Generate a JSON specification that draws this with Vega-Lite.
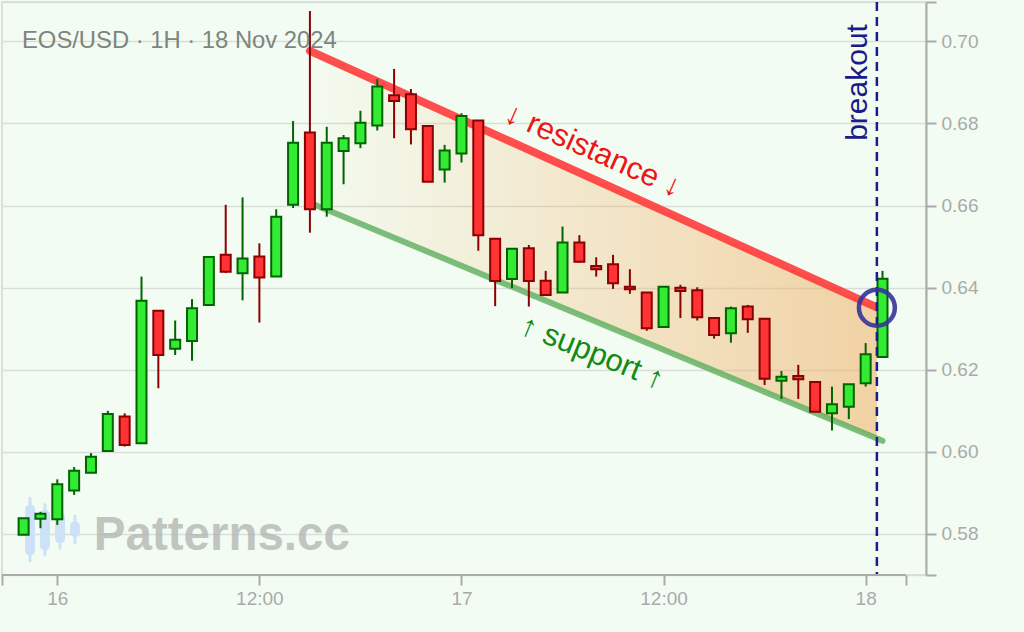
{
  "$schema": "https://vega.github.io/schema/vega-lite/v6.json",
  "width": 924,
  "height": 573,
  "autosize": {"type": "none"},
  "padding": {"left": 2, "top": 2, "right": 98, "bottom": 57},
  "background": "#f3fcf2",
  "config": {
    "font": "Liberation Sans",
    "view": {"stroke": "#dcdfdc", "strokeWidth": 2}
  },
  "title": {
    "text": "EOS/USD · 1H · 18 Nov 2024",
    "anchor": "start",
    "frame": "group",
    "orient": "top",
    "offset": -79,
    "dx": 20,
    "baseline": "alphabetic",
    "font": "Liberation Sans",
    "fontSize": 23.8,
    "fontWeight": "normal",
    "color": "#7d857d"
  },
  "datasets": {
    "candles": [
      {"t": "2024-11-15T22:00:00Z", "o": 0.5798, "h": 0.5839, "l": 0.5797, "c": 0.5838},
      {"t": "2024-11-15T23:00:00Z", "o": 0.5837, "h": 0.5854, "l": 0.5814, "c": 0.5849},
      {"t": "2024-11-16T00:00:00Z", "o": 0.5836, "h": 0.5933, "l": 0.5822, "c": 0.5921},
      {"t": "2024-11-16T01:00:00Z", "o": 0.5906, "h": 0.5963, "l": 0.5895, "c": 0.5954},
      {"t": "2024-11-16T02:00:00Z", "o": 0.5949, "h": 0.5997, "l": 0.5948, "c": 0.5988},
      {"t": "2024-11-16T03:00:00Z", "o": 0.6002, "h": 0.6100, "l": 0.6001, "c": 0.6092},
      {"t": "2024-11-16T04:00:00Z", "o": 0.6086, "h": 0.6094, "l": 0.6013, "c": 0.6017},
      {"t": "2024-11-16T05:00:00Z", "o": 0.6021, "h": 0.6427, "l": 0.6019, "c": 0.6368},
      {"t": "2024-11-16T06:00:00Z", "o": 0.6344, "h": 0.6345, "l": 0.6155, "c": 0.6236},
      {"t": "2024-11-16T07:00:00Z", "o": 0.6251, "h": 0.6320, "l": 0.6236, "c": 0.6273},
      {"t": "2024-11-16T08:00:00Z", "o": 0.6270, "h": 0.6372, "l": 0.6222, "c": 0.6350},
      {"t": "2024-11-16T09:00:00Z", "o": 0.6358, "h": 0.6476, "l": 0.6357, "c": 0.6475},
      {"t": "2024-11-16T10:00:00Z", "o": 0.6480, "h": 0.6602, "l": 0.6436, "c": 0.6439},
      {"t": "2024-11-16T11:00:00Z", "o": 0.6435, "h": 0.6620, "l": 0.6369, "c": 0.6471},
      {"t": "2024-11-16T12:00:00Z", "o": 0.6476, "h": 0.6508, "l": 0.6315, "c": 0.6425},
      {"t": "2024-11-16T13:00:00Z", "o": 0.6427, "h": 0.6591, "l": 0.6426, "c": 0.6573},
      {"t": "2024-11-16T14:00:00Z", "o": 0.6602, "h": 0.6806, "l": 0.6594, "c": 0.6753},
      {"t": "2024-11-16T15:00:00Z", "o": 0.6778, "h": 0.7074, "l": 0.6534, "c": 0.6591},
      {"t": "2024-11-16T16:00:00Z", "o": 0.6591, "h": 0.6792, "l": 0.6573, "c": 0.6753},
      {"t": "2024-11-16T17:00:00Z", "o": 0.6733, "h": 0.6772, "l": 0.6652, "c": 0.6764},
      {"t": "2024-11-16T18:00:00Z", "o": 0.6752, "h": 0.6831, "l": 0.6740, "c": 0.6802},
      {"t": "2024-11-16T19:00:00Z", "o": 0.6795, "h": 0.6908, "l": 0.6783, "c": 0.6890},
      {"t": "2024-11-16T20:00:00Z", "o": 0.6869, "h": 0.6933, "l": 0.6764, "c": 0.6855},
      {"t": "2024-11-16T21:00:00Z", "o": 0.6871, "h": 0.6884, "l": 0.6749, "c": 0.6786},
      {"t": "2024-11-16T22:00:00Z", "o": 0.6794, "h": 0.6795, "l": 0.6658, "c": 0.6658},
      {"t": "2024-11-16T23:00:00Z", "o": 0.6688, "h": 0.6748, "l": 0.6656, "c": 0.6734},
      {"t": "2024-11-17T00:00:00Z", "o": 0.6727, "h": 0.6825, "l": 0.6705, "c": 0.6818},
      {"t": "2024-11-17T01:00:00Z", "o": 0.6807, "h": 0.6808, "l": 0.6490, "c": 0.6528},
      {"t": "2024-11-17T02:00:00Z", "o": 0.6519, "h": 0.6520, "l": 0.6355, "c": 0.6416},
      {"t": "2024-11-17T03:00:00Z", "o": 0.6421, "h": 0.6496, "l": 0.6399, "c": 0.6495},
      {"t": "2024-11-17T04:00:00Z", "o": 0.6496, "h": 0.6504, "l": 0.6354, "c": 0.6416},
      {"t": "2024-11-17T05:00:00Z", "o": 0.6417, "h": 0.6441, "l": 0.6382, "c": 0.6382},
      {"t": "2024-11-17T06:00:00Z", "o": 0.6388, "h": 0.6549, "l": 0.6387, "c": 0.6510},
      {"t": "2024-11-17T07:00:00Z", "o": 0.6510, "h": 0.6528, "l": 0.6461, "c": 0.6463},
      {"t": "2024-11-17T08:00:00Z", "o": 0.6453, "h": 0.6474, "l": 0.6427, "c": 0.6445},
      {"t": "2024-11-17T09:00:00Z", "o": 0.6457, "h": 0.6480, "l": 0.6397, "c": 0.6411},
      {"t": "2024-11-17T10:00:00Z", "o": 0.6402, "h": 0.6445, "l": 0.6385, "c": 0.6396},
      {"t": "2024-11-17T11:00:00Z", "o": 0.6388, "h": 0.6389, "l": 0.6295, "c": 0.6301},
      {"t": "2024-11-17T12:00:00Z", "o": 0.6304, "h": 0.6403, "l": 0.6303, "c": 0.6402},
      {"t": "2024-11-17T13:00:00Z", "o": 0.6400, "h": 0.6407, "l": 0.6326, "c": 0.6392},
      {"t": "2024-11-17T14:00:00Z", "o": 0.6394, "h": 0.6401, "l": 0.6320, "c": 0.6328},
      {"t": "2024-11-17T15:00:00Z", "o": 0.6326, "h": 0.6327, "l": 0.6276, "c": 0.6285},
      {"t": "2024-11-17T16:00:00Z", "o": 0.6289, "h": 0.6354, "l": 0.6266, "c": 0.6350},
      {"t": "2024-11-17T17:00:00Z", "o": 0.6354, "h": 0.6358, "l": 0.6290, "c": 0.6323},
      {"t": "2024-11-17T18:00:00Z", "o": 0.6324, "h": 0.6325, "l": 0.6163, "c": 0.6178},
      {"t": "2024-11-17T19:00:00Z", "o": 0.6173, "h": 0.6197, "l": 0.6129, "c": 0.6183},
      {"t": "2024-11-17T20:00:00Z", "o": 0.6185, "h": 0.6212, "l": 0.6129, "c": 0.6177},
      {"t": "2024-11-17T21:00:00Z", "o": 0.6170, "h": 0.6172, "l": 0.6097, "c": 0.6098},
      {"t": "2024-11-17T22:00:00Z", "o": 0.6094, "h": 0.6159, "l": 0.6052, "c": 0.6116},
      {"t": "2024-11-17T23:00:00Z", "o": 0.6110, "h": 0.6165, "l": 0.6080, "c": 0.6165},
      {"t": "2024-11-18T00:00:00Z", "o": 0.6167, "h": 0.6265, "l": 0.6159, "c": 0.6238},
      {"t": "2024-11-18T01:00:00Z", "o": 0.6231, "h": 0.6441, "l": 0.6230, "c": 0.6422}
    ],
    "logo": [
      {"t": "2024-11-15T22:23:00Z", "lo": 0.5735, "hi": 0.5887, "bo": 0.5749, "bc": 0.5871},
      {"t": "2024-11-15T23:16:00Z", "lo": 0.5749, "hi": 0.5872, "bo": 0.5761, "bc": 0.5858},
      {"t": "2024-11-16T00:10:00Z", "lo": 0.5766, "hi": 0.5863, "bo": 0.5778, "bc": 0.5851},
      {"t": "2024-11-16T01:03:00Z", "lo": 0.5778, "hi": 0.5844, "bo": 0.5793, "bc": 0.5830}
    ],
    "channel": [
      {"t": "2024-11-16T15:00:00Z", "top": 0.6977, "bot": 0.6607},
      {"t": "2024-11-18T00:40:00Z", "top": 0.6352, "bot": 0.6032}
    ],
    "resistance": [
      {"t": "2024-11-16T15:00:00Z", "p": 0.6977},
      {"t": "2024-11-18T00:40:00Z", "p": 0.6352}
    ],
    "support": [
      {"t": "2024-11-16T15:00:00Z", "p": 0.6607},
      {"t": "2024-11-18T01:00:00Z", "p": 0.6027}
    ],
    "breakout": [
      {"t": "2024-11-18T00:40:00Z", "p": 0.6351}
    ],
    "xspine": [
      {"t": "2024-11-15T20:43:00Z", "t2": "2024-11-18T02:23:30Z", "p": 0.57}
    ]
  },
  "encoding": {
    "x": {
      "field": "t",
      "type": "temporal",
      "title": null,
      "scale": {
        "type": "utc",
        "domain": [
          {"year": 2024, "month": 11, "date": 15, "hours": 20, "minutes": 43, "utc": true},
          {"year": 2024, "month": 11, "date": 18, "hours": 3, "minutes": 35, "utc": true}
        ],
        "nice": false,
        "padding": 0
      },
      "axis": {
        "domain": false,
        "grid": false,
        "values": [
          {"year": 2024, "month": 11, "date": 15, "hours": 20, "minutes": 43, "utc": true},
          {"year": 2024, "month": 11, "date": 16, "hours": 0, "utc": true},
          {"year": 2024, "month": 11, "date": 16, "hours": 12, "utc": true},
          {"year": 2024, "month": 11, "date": 17, "hours": 0, "utc": true},
          {"year": 2024, "month": 11, "date": 17, "hours": 12, "utc": true},
          {"year": 2024, "month": 11, "date": 18, "hours": 0, "utc": true},
          {"year": 2024, "month": 11, "date": 18, "hours": 2, "minutes": 23, "utc": true}
        ],
        "labelExpr": "utcminutes(datum.value) != 0 ? '' : (utchours(datum.value) == 0 ? '' + utcdate(datum.value) : '12:00')",
        "tickColor": "#aaaaaa",
        "tickWidth": 2,
        "tickSize": 10,
        "labelColor": "#aaaaaa",
        "labelFont": "Liberation Sans",
        "labelFontSize": 19,
        "labelPadding": 4,
        "labelFlush": false,
        "labelOverlap": false
      }
    }
  },
  "layer": [
    {
      "data": {"name": "channel"},
      "mark": {
        "type": "area",
        "color": {
          "gradient": "linear",
          "x1": 0, "y1": 0, "x2": 1, "y2": 0,
          "stops": [
            {"offset": 0, "color": "rgba(240,175,100,0.02)"},
            {"offset": 1, "color": "rgba(240,175,100,0.55)"}
          ]
        }
      },
      "encoding": {
        "y": {
          "field": "top",
          "type": "quantitative",
          "title": null,
          "scale": {"domain": [0.57, 0.7096], "nice": false, "zero": false, "padding": 0},
          "axis": {
            "orient": "right",
            "values": [0.57, 0.58, 0.60, 0.62, 0.64, 0.66, 0.68, 0.70, 0.7096],
            "labelExpr": "(datum.value < 0.575 || datum.value > 0.705) ? '' : format(datum.value, '.2f')",
            "domainColor": "#aaaaaa",
            "domainWidth": 2,
            "tickColor": "#aaaaaa",
            "tickWidth": 2,
            "tickSize": 10,
            "labelColor": "#aaaaaa",
            "labelFont": "Liberation Sans",
            "labelFontSize": 19,
            "labelPadding": 5,
            "labelFlush": false,
            "labelOverlap": false,
            "grid": true,
            "gridColor": "#d9ddd9",
            "gridWidth": 1.5
          }
        },
        "y2": {"field": "bot"}
      }
    },
    {
      "data": {"name": "logo"},
      "mark": {"type": "rule", "color": "#cde2f8", "strokeWidth": 3, "strokeCap": "round"},
      "encoding": {
        "y": {"field": "lo", "type": "quantitative", "title": null, "scale": {"domain": [0.57, 0.7096], "nice": false, "zero": false, "padding": 0}},
        "y2": {"field": "hi"}
      }
    },
    {
      "data": {"name": "logo"},
      "mark": {"type": "bar", "color": "#cde2f8", "width": 10, "cornerRadius": 4},
      "encoding": {
        "y": {"field": "bo", "type": "quantitative", "title": null, "scale": {"domain": [0.57, 0.7096], "nice": false, "zero": false, "padding": 0}},
        "y2": {"field": "bc"}
      }
    },
    {
      "data": {"values": [{"t": "2024-11-16T02:10:00Z", "p": 0.5761, "label": "Patterns.cc"}]},
      "mark": {"type": "text", "align": "left", "baseline": "alphabetic", "font": "Liberation Sans", "fontSize": 47.5, "fontWeight": "bold", "color": "#b0b3b0", "opacity": 0.75},
      "encoding": {
        "y": {"field": "p", "type": "quantitative", "title": null, "scale": {"domain": [0.57, 0.7096], "nice": false, "zero": false, "padding": 0}},
        "text": {"field": "label"}
      }
    },
    {
      "data": {"name": "support"},
      "mark": {"type": "line", "color": "#5cae5c", "opacity": 0.8, "strokeWidth": 6, "strokeCap": "round"},
      "encoding": {
        "y": {"field": "p", "type": "quantitative", "title": null, "scale": {"domain": [0.57, 0.7096], "nice": false, "zero": false, "padding": 0}}
      }
    },
    {
      "data": {"name": "resistance"},
      "mark": {"type": "line", "color": "#ff3b3b", "opacity": 0.9, "strokeWidth": 8, "strokeCap": "round"},
      "encoding": {
        "y": {"field": "p", "type": "quantitative", "title": null, "scale": {"domain": [0.57, 0.7096], "nice": false, "zero": false, "padding": 0}}
      }
    },
    {
      "data": {"name": "candles"},
      "mark": {"type": "rule", "strokeWidth": 2},
      "encoding": {
        "y": {"field": "l", "type": "quantitative", "title": null, "scale": {"domain": [0.57, 0.7096], "nice": false, "zero": false, "padding": 0}},
        "y2": {"field": "h"},
        "color": {"condition": {"test": "datum.c >= datum.o", "value": "#006400"}, "value": "#8b0000"}
      }
    },
    {
      "data": {"name": "candles"},
      "mark": {"type": "bar", "width": 10, "strokeWidth": 2},
      "encoding": {
        "y": {"field": "o", "type": "quantitative", "title": null, "scale": {"domain": [0.57, 0.7096], "nice": false, "zero": false, "padding": 0}},
        "y2": {"field": "c"},
        "fill": {"condition": {"test": "datum.c >= datum.o", "value": "#33eb33"}, "value": "#ff3333"},
        "stroke": {"condition": {"test": "datum.c >= datum.o", "value": "#006400"}, "value": "#8b0000"}
      }
    },
    {
      "data": {"name": "breakout"},
      "mark": {"type": "rule", "color": "#1a1a8c", "strokeWidth": 2.5, "strokeDash": [9, 6]},
      "encoding": {}
    },
    {
      "data": {"name": "breakout"},
      "mark": {"type": "point", "shape": "circle", "filled": false, "size": 1290, "stroke": "#35359a", "strokeWidth": 4.5, "opacity": 0.9},
      "encoding": {
        "y": {"field": "p", "type": "quantitative", "title": null, "scale": {"domain": [0.57, 0.7096], "nice": false, "zero": false, "padding": 0}}
      }
    },
    {
      "data": {"values": [{"t": "2024-11-17T07:48:00Z", "p": 0.6733, "label": "↓ resistance ↓"}]},
      "mark": {"type": "text", "align": "center", "baseline": "middle", "angle": 24, "font": "Liberation Sans", "fontSize": 31, "color": "#ee1515"},
      "encoding": {
        "y": {"field": "p", "type": "quantitative", "title": null, "scale": {"domain": [0.57, 0.7096], "nice": false, "zero": false, "padding": 0}},
        "text": {"field": "label"}
      }
    },
    {
      "data": {"values": [{"t": "2024-11-17T07:45:00Z", "p": 0.6241, "label": "↑ support ↑"}]},
      "mark": {"type": "text", "align": "center", "baseline": "middle", "angle": 22, "font": "Liberation Sans", "fontSize": 31, "color": "#148a14"},
      "encoding": {
        "y": {"field": "p", "type": "quantitative", "title": null, "scale": {"domain": [0.57, 0.7096], "nice": false, "zero": false, "padding": 0}},
        "text": {"field": "label"}
      }
    },
    {
      "data": {"values": [{"t": "2024-11-18T00:05:00Z", "p": 0.690, "label": "breakout"}]},
      "mark": {"type": "text", "align": "center", "baseline": "alphabetic", "angle": 270, "font": "Liberation Sans", "fontSize": 30, "color": "#1a1a8a"},
      "encoding": {
        "y": {"field": "p", "type": "quantitative", "title": null, "scale": {"domain": [0.57, 0.7096], "nice": false, "zero": false, "padding": 0}},
        "text": {"field": "label"}
      }
    },
    {
      "data": {"name": "xspine"},
      "mark": {"type": "rule", "color": "#aaaaaa", "strokeWidth": 2},
      "encoding": {
        "x2": {"field": "t2"},
        "y": {"field": "p", "type": "quantitative", "title": null, "scale": {"domain": [0.57, 0.7096], "nice": false, "zero": false, "padding": 0}}
      }
    }
  ]
}
